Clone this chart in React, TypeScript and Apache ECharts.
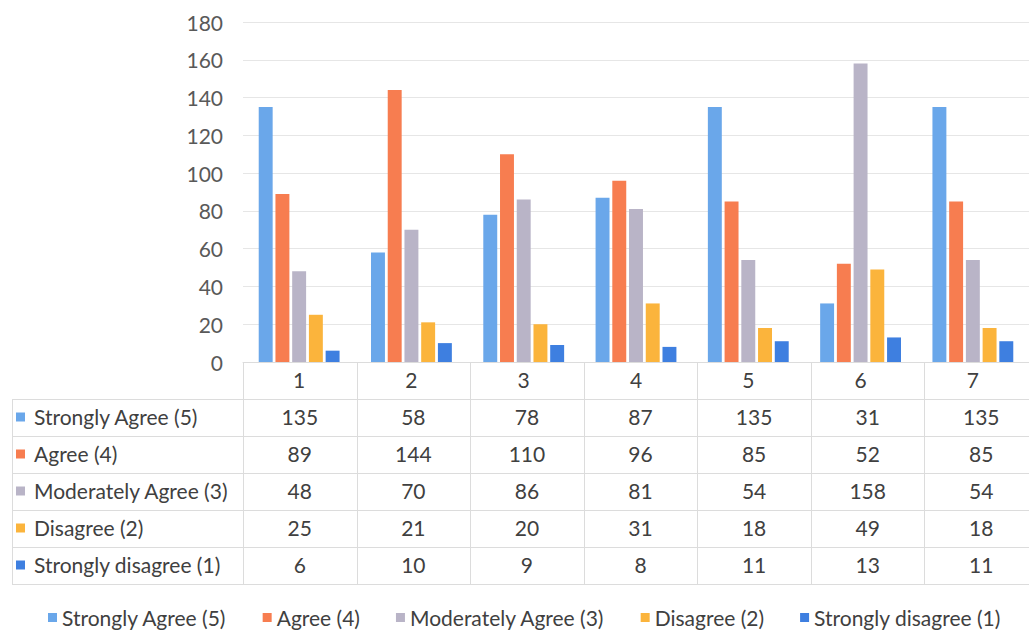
import React, { useEffect, useRef } from "react";
import * as echarts from "echarts";

const categories = ["1", "2", "3", "4", "5", "6", "7"];
const seriesNames = [
  "Strongly Agree (5)",
  "Agree (4)",
  "Moderately Agree (3)",
  "Disagree (2)",
  "Strongly disagree (1)",
];
const stronglyAgree = [135, 58, 78, 87, 135, 31, 135];
const agree = [89, 144, 110, 96, 85, 52, 85];
const moderatelyAgree = [48, 70, 86, 81, 54, 158, 54];
const disagree = [25, 21, 20, 31, 18, 49, 18];
const stronglyDisagree = [6, 10, 9, 8, 11, 13, 11];
const yTicks = { min: 0, max: 180, interval: 20 };

const colors = ["#6aa7ea", "#f77d50", "#b9b4c7", "#fbb43c", "#3e7fe0"];
const FONT = "Lato, 'Open Sans', sans-serif";
const FS = 21;

export default function App() {
  const ref = useRef<HTMLDivElement>(null);
  useEffect(() => {
    document.body.style.margin = "0";
    const chart = echarts.init(ref.current!, undefined, { renderer: "svg" });
    const allData = [stronglyAgree, agree, moderatelyAgree, disagree, stronglyDisagree];

    const W = 1029;
    const gridLeft = 243;
    const gridTop = 22;
    const axisY = 362;
    const plotRight = 1038;
    const bandW = (plotRight - gridLeft) / categories.length;
    const rowH = 37;
    const tableLeft = 12;
    const lineColor = "#dcdcdc";
    const textColor = "#404040";

    const graphic: any[] = [];
    for (let r = 1; r <= seriesNames.length + 1; r++) {
      const y = Math.round(axisY + rowH * r) + 0.5;
      graphic.push({
        type: "line",
        shape: { x1: tableLeft, y1: y, x2: W, y2: y },
        style: { stroke: lineColor, lineWidth: 1 },
        silent: true,
      });
    }
    graphic.push({
      type: "line",
      shape: { x1: tableLeft + 0.5, y1: axisY + rowH, x2: tableLeft + 0.5, y2: axisY + rowH * 6 },
      style: { stroke: lineColor, lineWidth: 1 },
      silent: true,
    });
    for (let c = 0; c <= categories.length; c++) {
      const x = Math.round(gridLeft + bandW * c) + 0.5;
      graphic.push({
        type: "line",
        shape: { x1: x, y1: axisY, x2: x, y2: axisY + rowH * 6 },
        style: { stroke: lineColor, lineWidth: 1 },
        silent: true,
      });
    }
    seriesNames.forEach((name, r) => {
      const cy = axisY + rowH * (r + 1) + rowH / 2 - 1;
      graphic.push({
        type: "rect",
        shape: { x: 16, y: cy - 4, width: 9, height: 9 },
        style: { fill: colors[r] },
        silent: true,
      });
      graphic.push({
        type: "text",
        x: 34,
        y: cy,
        style: {
          text: name,
          fill: textColor,
          font: `${FS}px ${FONT}`,
          textAlign: "left",
          textVerticalAlign: "middle",
        },
        silent: true,
      });
      allData[r].forEach((v, c) => {
        graphic.push({
          type: "text",
          x: gridLeft + bandW * (c + 0.5),
          y: cy,
          style: {
            text: String(v),
            fill: textColor,
            font: `${FS}px ${FONT}`,
            textAlign: "center",
            textVerticalAlign: "middle",
          },
          silent: true,
        });
      });
    });

    chart.setOption({
      animation: false,
      backgroundColor: "#ffffff",
      color: colors,
      grid: { left: gridLeft, right: W - plotRight, top: gridTop, bottom: 631 - axisY, containLabel: false },
      xAxis: {
        type: "category",
        data: categories,
        axisLine: { show: true, lineStyle: { color: lineColor } },
        axisTick: { show: false },
        axisLabel: { color: textColor, fontSize: FS, fontFamily: FONT, margin: 7 },
      },
      yAxis: {
        type: "value",
        min: yTicks.min,
        max: yTicks.max,
        interval: yTicks.interval,
        axisLine: { show: false },
        axisTick: { show: false },
        splitLine: { lineStyle: { color: "#e6e6e6" } },
        axisLabel: { color: "#595959", fontSize: FS, fontFamily: FONT, margin: 20 },
      },
      legend: {
        data: seriesNames,
        left: 48,
        top: 607,
        padding: 0,
        icon: "rect",
        itemWidth: 9,
        itemHeight: 9,
        itemGap: 36,
        textStyle: { color: textColor, fontSize: FS, fontFamily: FONT },
      },
      graphic,
      series: seriesNames.map((name, i) => ({
        name,
        type: "bar",
        data: allData[i],
        barGap: "20%",
        barCategoryGap: "28%",
      })),
    });
    return () => chart.dispose();
  }, []);
  return <div ref={ref} style={{ width: 1029, height: 631 }} />;
}
